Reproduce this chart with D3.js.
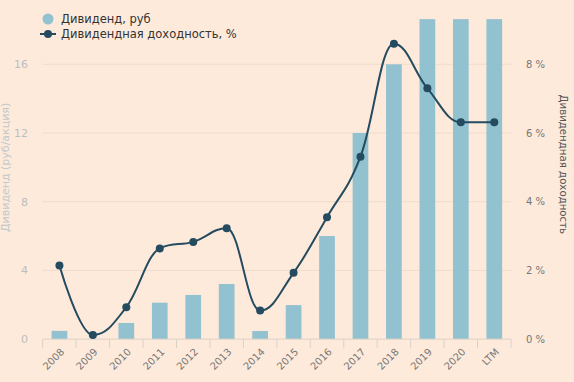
<!DOCTYPE html>
<html><head><meta charset="utf-8">
<script src="https://cdn.jsdelivr.net/npm/d3@7"></script>
<style>
html,body{margin:0;padding:0;background:#fdeadb;}
svg{display:block;font-family:"DejaVu Sans",Verdana,sans-serif;}
</style></head>
<body>
<svg id="c" width="574" height="382"></svg>
<script>
const categories = ["2008","2009","2010","2011","2012","2013","2014","2015","2016","2017","2018","2019","2020","LTM"];
const dividends = [0.48, 0, 0.94, 2.12, 2.57, 3.21, 0.47, 1.98, 6.0, 12.0, 16.0, 18.63, 18.63, 18.63];
const yields = [2.14, 0.12, 0.93, 2.64, 2.83, 3.23, 0.83, 1.93, 3.55, 5.31, 8.6, 7.3, 6.31, 6.31];
const leftTicks = [0, 4, 8, 12, 16, 20];
const rightTicks = [0, 2, 4, 6, 8, 10];
const seriesNames = ["Дивиденд, руб", "Дивидендная доходность, %"];
const axisTitles = ["Дивиденд (руб/акция)", "Дивидендная доходность"];

(function () {
const svg = d3.select("#c");
const W = 574, H = 382;
const pL = 42.7, pR = 511, pT = -4.4, pB = 339.1;
const barColor = "#92c1cf", lineColor = "#244b60";

svg.append("rect").attr("width", W).attr("height", H).attr("fill", "#fdeadb");

const x = d3.scaleBand().domain(categories).range([pL, pR]).paddingInner(0).paddingOuter(0);
const yL = d3.scaleLinear().domain([0, 20]).range([pB, pT]);
const yR = d3.scaleLinear().domain([0, 10]).range([pB, pT]);

// gridlines
svg.append("g").selectAll("line").data(leftTicks.slice(1)).join("line")
  .attr("x1", pL).attr("x2", pR)
  .attr("y1", d => yL(d)).attr("y2", d => yL(d))
  .attr("stroke", "#efdccb").attr("stroke-width", 1);

// left tick labels
svg.append("g").selectAll("text").data(leftTicks).join("text")
  .attr("x", 28).attr("y", d => yL(d)).attr("dy", "0.35em")
  .attr("text-anchor", "end").attr("font-size", 11).attr("fill", "#b9bfc0")
  .text(d => d);

// right tick labels
svg.append("g").selectAll("text").data(rightTicks).join("text")
  .attr("x", 526).attr("y", d => yR(d)).attr("dy", "0.35em")
  .attr("text-anchor", "start").attr("font-size", 10).attr("fill", "#777")
  .text(d => d + " %");

// axis titles
svg.append("text")
  .attr("transform", `translate(9,${(pT + pB) / 2}) rotate(-90)`)
  .attr("text-anchor", "middle").attr("font-size", 11).attr("fill", "#c3c9ca")
  .text(axisTitles[0]);
svg.append("text")
  .attr("transform", `translate(560,${(pT + pB) / 2 - 3}) rotate(90)`)
  .attr("text-anchor", "middle").attr("font-size", 10.2).attr("fill", "#555")
  .text(axisTitles[1]);

// bars
const bw = 15.7;
svg.append("g").selectAll("rect").data(categories).join("rect")
  .attr("x", d => x(d) + x.bandwidth() / 2 - bw / 2)
  .attr("width", bw)
  .attr("y", (d, i) => yL(dividends[i]))
  .attr("height", (d, i) => pB - yL(dividends[i]))
  .attr("fill", barColor);

// x axis
const xAxis = svg.append("g");
xAxis.append("line").attr("x1", pL).attr("x2", pR).attr("y1", pB).attr("y2", pB)
  .attr("stroke", "#dcd2c8");
const tickPos = categories.map(c => x(c)).concat([pR]);
xAxis.selectAll("line.t").data(tickPos).join("line").attr("class", "t")
  .attr("x1", d => d).attr("x2", d => d).attr("y1", pB).attr("y2", pB + 9)
  .attr("stroke", "#dcd2c8");
xAxis.selectAll("text").data(categories).join("text")
  .attr("transform", d => `translate(${x(d) + x.bandwidth() / 2 + 3},${pB + 11}) rotate(-45)`)
  .attr("text-anchor", "end").attr("dy", "0.35em")
  .attr("font-size", 10).attr("fill", "#777")
  .text(d => d);

// spline (Highcharts-style)
const pts = categories.map((c, i) => ({ x: x(c) + x.bandwidth() / 2, y: yR(yields[i]) }));
const smoothing = 1.5, denom = smoothing + 1;
const p = d3.path();
pts.forEach((pt, i) => {
  if (i === 0) { p.moveTo(pt.x, pt.y); return; }
  let lcx = pt.x, lcy = pt.y;
  if (i < pts.length - 1) {
    const last = pts[i - 1], next = pts[i + 1];
    lcx = (smoothing * pt.x + last.x) / denom;
    lcy = (smoothing * pt.y + last.y) / denom;
    let rcx = (smoothing * pt.x + next.x) / denom;
    let rcy = (smoothing * pt.y + next.y) / denom;
    let corr = 0;
    if (rcx !== lcx) corr = ((rcy - lcy) * (rcx - pt.x)) / (rcx - lcx) + pt.y - rcy;
    lcy += corr; rcy += corr;
    if (lcy > last.y && lcy > pt.y) { lcy = Math.max(last.y, pt.y); rcy = 2 * pt.y - lcy; }
    else if (lcy < last.y && lcy < pt.y) { lcy = Math.min(last.y, pt.y); rcy = 2 * pt.y - lcy; }
    if (rcy > next.y && rcy > pt.y) { rcy = Math.max(next.y, pt.y); lcy = 2 * pt.y - rcy; }
    else if (rcy < next.y && rcy < pt.y) { rcy = Math.min(next.y, pt.y); lcy = 2 * pt.y - rcy; }
    pt.rcx = rcx; pt.rcy = rcy;
  }
  const prev = pts[i - 1];
  p.bezierCurveTo(prev.rcx ?? prev.x, prev.rcy ?? prev.y, lcx, lcy, pt.x, pt.y);
});
svg.append("path").attr("d", p.toString()).attr("fill", "none")
  .attr("stroke", lineColor).attr("stroke-width", 2);
svg.append("g").selectAll("circle").data(pts).join("circle")
  .attr("cx", d => d.x).attr("cy", d => d.y).attr("r", 4).attr("fill", lineColor);

// legend
const lg = svg.append("g");
lg.append("circle").attr("cx", 48).attr("cy", 19).attr("r", 5.5).attr("fill", barColor);
lg.append("line").attr("x1", 40).attr("x2", 56).attr("y1", 34).attr("y2", 34).attr("stroke", lineColor).attr("stroke-width", 2);
lg.append("circle").attr("cx", 48).attr("cy", 34).attr("r", 4).attr("fill", lineColor);
lg.selectAll("text").data(seriesNames).join("text")
  .attr("x", 61).attr("y", (d, i) => 19 + i * 15).attr("dy", "0.35em")
  .attr("font-size", 11.5).attr("fill", "#333")
  .text(d => d);
})();
</script>
</body></html>
